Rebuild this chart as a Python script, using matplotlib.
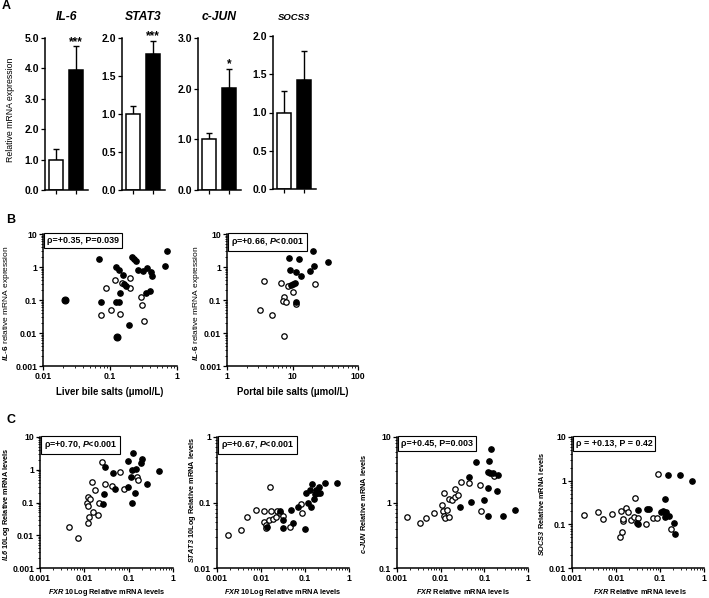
import numpy as np
import matplotlib
matplotlib.use('Agg')
import matplotlib.pyplot as plt
from matplotlib.ticker import FuncFormatter, LogLocator, NullFormatter

plt.rcParams['font.family'] = ['Liberation Sans', 'DejaVu Sans']
plt.rcParams['font.weight'] = 'bold'
plt.rcParams['mathtext.fontset'] = 'custom'
plt.rcParams['mathtext.rm'] = 'Liberation Sans'
plt.rcParams['mathtext.it'] = 'Liberation Sans:italic'
plt.rcParams['mathtext.bf'] = 'Liberation Sans:bold'
plt.rcParams['mathtext.bfit'] = 'Liberation Sans:italic:bold'

W, H = 709, 598

# ---- panel A : bar data
genes = ['IL-6', 'STAT3', 'c-JUN', 'SOCS3']
ctrl_mean = [1.0, 1.0, 1.0, 1.0]
ctrl_sem = [0.36, 0.11, 0.13, 0.28]
case_mean = [3.95, 1.79, 2.02, 1.42]
case_sem = [0.78, 0.17, 0.37, 0.39]
stars = ['***', '***', '*', '']
ymax_a = [5, 2, 3, 2]
ystep_a = [1, 0.5, 1, 0.5]

# ---- panel B : IL-6 vs bile salts
liver_fx = [0.069, 0.073, 0.123, 0.136, 0.158, 0.122, 0.135, 0.141, 0.162, 0.174, 0.195,
            0.214, 0.229, 0.245, 0.266, 0.31, 0.36, 0.41, 0.42, 0.34, 0.40, 0.66, 0.71]
liver_fy = [1.75, 0.084, 1.0, 0.83, 0.56, 0.09, 0.09, 0.166, 0.31, 0.26, 0.0175,
            1.97, 1.71, 1.56, 0.79, 0.77, 0.93, 0.70, 0.53, 0.16, 0.19, 1.1, 3.0]
liver_big_x = [0.021, 0.128]
liver_big_y = [0.098, 0.0078]
liver_ox = [0.074, 0.102, 0.14, 0.088, 0.12, 0.15, 0.2, 0.2, 0.29, 0.3, 0.32]
liver_oy = [0.036, 0.05, 0.038, 0.235, 0.41, 0.33, 0.47, 0.235, 0.12, 0.073, 0.023]

portal_fx = [8.8, 12.5, 20.4, 35, 9.2, 11.5, 13.5, 18.5, 21.6, 9.5, 10.1, 11.0, 11.2]
portal_fy = [1.92, 1.75, 3.0, 1.42, 0.79, 0.70, 0.53, 0.77, 1.1, 0.29, 0.31, 0.33, 0.085]
portal_ox = [3.7, 6.6, 8.5, 10.1, 7.3, 7.1, 8.0, 3.2, 4.9, 7.4, 22.4, 11.5]
portal_oy = [0.38, 0.33, 0.26, 0.17, 0.122, 0.093, 0.09, 0.049, 0.036, 0.0083, 0.30, 0.075]

# ---- panel C : genes vs FXR
il6_fx = [0.029, 0.028, 0.027, 0.044, 0.05, 0.095, 0.098, 0.127, 0.121, 0.144, 0.19,
          0.2, 0.115, 0.136, 0.118, 0.26, 0.48]
il6_fy = [1.18, 0.18, 0.089, 0.77, 0.256, 0.29, 1.8, 3.2, 0.98, 1.05, 1.6,
          2.1, 0.58, 0.2, 0.095, 0.36, 0.89]
il6_ox = [0.0046, 0.0071, 0.0119, 0.0117, 0.0123, 0.0136, 0.0127, 0.0123, 0.0151, 0.0177,
          0.0153, 0.0199, 0.0215, 0.025, 0.029, 0.043, 0.063, 0.08, 0.157, 0.165]
il6_oy = [0.0176, 0.0085, 0.146, 0.1, 0.079, 0.126, 0.037, 0.023, 0.41, 0.24,
          0.052, 0.041, 0.095, 1.72, 0.355, 0.32, 0.83, 0.256, 0.61, 0.49]

stat3_fx = [0.0137, 0.027, 0.032, 0.031, 0.047, 0.053, 0.069, 0.1, 0.107, 0.12, 0.14,
            0.128, 0.147, 0.157, 0.166, 0.174, 0.21, 0.196, 0.22, 0.28, 0.52]
stat3_fy = [0.043, 0.074, 0.054, 0.041, 0.077, 0.049, 0.084, 0.039, 0.138, 0.1, 0.086,
            0.155, 0.19, 0.114, 0.135, 0.155, 0.17, 0.14, 0.138, 0.197, 0.2]
stat3_ox = [0.0018, 0.0036, 0.0048, 0.0075, 0.0117, 0.0166, 0.0235, 0.0163, 0.012, 0.0128,
            0.013, 0.015, 0.019, 0.022, 0.027, 0.032, 0.046, 0.082, 0.085]
stat3_oy = [0.032, 0.038, 0.06, 0.077, 0.075, 0.075, 0.073, 0.17, 0.051, 0.046,
            0.041, 0.054, 0.056, 0.061, 0.068, 0.062, 0.043, 0.096, 0.069]

cjun_fx = [0.027, 0.05, 0.045, 0.064, 0.1, 0.121, 0.119, 0.121, 0.131, 0.14, 0.137,
           0.158, 0.195, 0.21, 0.27, 0.5]
cjun_fy = [0.86, 1.02, 2.48, 4.2, 1.1, 0.62, 1.64, 2.95, 4.35, 6.5, 2.8,
           2.85, 1.49, 2.6, 0.62, 0.78]
cjun_ox = [0.0017, 0.0033, 0.0045, 0.0069, 0.0107, 0.0121, 0.0113, 0.0121, 0.0128, 0.014,
           0.0152, 0.0152, 0.018, 0.0216, 0.021, 0.025, 0.029, 0.044, 0.078, 0.082, 0.166]
cjun_oy = [0.6, 0.49, 0.58, 0.69, 0.91, 1.42, 0.74, 0.62, 0.57, 0.76,
           0.6, 1.12, 1.09, 1.58, 1.22, 1.3, 2.05, 1.96, 1.85, 0.74, 2.5]

socs3_fx = [0.032, 0.032, 0.03, 0.05, 0.055, 0.107, 0.12, 0.14, 0.16, 0.133, 0.15,
            0.29, 0.54, 0.21, 0.22, 0.13]
socs3_fy = [0.21, 0.1, 0.11, 0.22, 0.22, 0.195, 0.2, 0.19, 0.155, 0.38, 1.35,
            1.35, 1.0, 0.106, 0.06, 0.15]
socs3_ox = [0.0019, 0.0038, 0.005, 0.008, 0.0127, 0.0146, 0.0141, 0.0123, 0.0136, 0.0168,
            0.019, 0.0225, 0.025, 0.0276, 0.031, 0.047, 0.07, 0.085, 0.09, 0.18]
socs3_oy = [0.162, 0.195, 0.13, 0.17, 0.2, 0.12, 0.13, 0.052, 0.068, 0.24,
            0.195, 0.123, 0.145, 0.4, 0.14, 0.1, 0.14, 0.14, 1.42, 0.08]


def px(l, t, r, b):
    return [l / W, 1 - b / H, (r - l) / W, (b - t) / H]


def style(ax, fs=6.2):
    ax.spines['top'].set_visible(False)
    ax.spines['right'].set_visible(False)
    ax.spines['left'].set_linewidth(1.1)
    ax.spines['bottom'].set_linewidth(1.1)
    ax.tick_params(which='major', length=3, width=0.9, labelsize=fs, pad=1.2)
    ax.tick_params(which='minor', length=1.7, width=0.6)


def logfmt(ax):
    f = FuncFormatter(lambda v, p: '%g' % v)
    for axis in [ax.xaxis, ax.yaxis]:
        axis.set_major_locator(LogLocator(base=10))
        axis.set_minor_locator(LogLocator(base=10, subs=np.arange(2, 10)))
        axis.set_major_formatter(f)
        axis.set_minor_formatter(NullFormatter())


def scatter(ax, fx, fy, ox, oy, ms=3.9):
    ax.plot(ox, oy, 'o', mfc='white', mec='k', ms=ms, mew=0.9, clip_on=False)
    ax.plot(fx, fy, 'o', mfc='k', mec='k', ms=ms, mew=0.9, clip_on=False)


def rho_box(ax, txt):
    ax.text(0.03, 0.985, txt, transform=ax.transAxes, ha='left', va='top', fontsize=6.4,
            bbox=dict(boxstyle='square,pad=0.3', fc='white', ec='k', lw=0.8))


fig = plt.figure(figsize=(W / 100, H / 100), dpi=100)

# ---------------- A
a_boxes = [(45, 38, 88, 190), (122, 38, 165, 190), (198, 38, 241, 190), (273, 36, 316, 189)]
for i, g in enumerate(genes):
    ax = fig.add_axes(px(*a_boxes[i]))
    ax.bar([0, 1], [ctrl_mean[i], case_mean[i]], width=0.7, color=['white', 'black'],
           edgecolor='k', linewidth=1.1, zorder=2)
    ax.errorbar([0, 1], [ctrl_mean[i], case_mean[i]],
                yerr=[[0, 0], [ctrl_sem[i], case_sem[i]]], fmt='none', ecolor='k',
                elinewidth=1.0, capsize=2.5, capthick=1.0, zorder=1)
    if stars[i]:
        ax.text(1, case_mean[i] + case_sem[i] - ymax_a[i] * 0.01, stars[i],
                ha='center', va='bottom', fontsize=8.5)
    ax.set_xlim(-0.55, 1.6)
    ax.set_ylim(0, ymax_a[i])
    ax.set_yticks(np.arange(0, ymax_a[i] + ystep_a[i] / 2, ystep_a[i]))
    ax.yaxis.set_major_formatter(FuncFormatter(lambda v, p: '%.1f' % v))
    ax.set_xticks([0, 1])
    ax.set_xticklabels(['', ''])
    style(ax, fs=7.5)
    cx = (a_boxes[i][0] + a_boxes[i][2]) / 2
    fig.text(cx / W, 1 - 17 / H, g, ha='center', va='center', style='italic',
             fontsize=8.7 if i < 3 else 6.8)

fig.text(11 / W, 1 - 110 / H, 'Relative mRNA expression', rotation=90, ha='center',
         va='center', fontsize=6.3, weight='normal')
fig.text(6 / W, 1 - 6 / H, 'A', fontsize=9, ha='center', va='center')

# ---------------- B
ax = fig.add_axes(px(43, 234, 177, 366))
ax.set_xscale('log')
ax.set_yscale('log')
scatter(ax, liver_fx, liver_fy, liver_ox, liver_oy)
ax.plot(liver_big_x, liver_big_y, 'o', mfc='k', mec='k', ms=4.9, mew=0.9)
ax.set_xlim(0.01, 1)
ax.set_ylim(0.001, 10)
style(ax)
logfmt(ax)
rho_box(ax, 'ρ=+0.35, P=0.039')

ax = fig.add_axes(px(227, 234, 358, 366))
ax.set_xscale('log')
ax.set_yscale('log')
scatter(ax, portal_fx, portal_fy, portal_ox, portal_oy)
ax.set_xlim(1, 100)
ax.set_ylim(0.001, 10)
style(ax)
logfmt(ax)
rho_box(ax, 'ρ=+0.66, $\\mathbfit{P}$<0.001')

for x, lab in [(7, '$\\mathit{IL}$-$\\mathit{6}$ relative mRNA expression'),
               (197, '$\\mathit{IL}$-$\\mathit{6}$ relative mRNA expression')]:
    fig.text(x / W, 1 - 303 / H, lab, rotation=90, ha='center', va='center',
             fontsize=6.0, weight='normal')
fig.text(110 / W, 1 - 392 / H, 'Liver bile salts (μmol/L)', ha='center', va='center',
         fontsize=6.9)
fig.text(293 / W, 1 - 392 / H, 'Portal bile salts (μmol/L)', ha='center', va='center',
         fontsize=6.9)
fig.text(11 / W, 1 - 220 / H, 'B', fontsize=9, ha='center', va='center')

# ---------------- C
c_boxes = [(40, 437, 173, 568), (217, 437, 349, 568), (397, 437, 528, 568), (572, 437, 704, 568)]
c_data = [(il6_fx, il6_fy, il6_ox, il6_oy), (stat3_fx, stat3_fy, stat3_ox, stat3_oy),
          (cjun_fx, cjun_fy, cjun_ox, cjun_oy), (socs3_fx, socs3_fy, socs3_ox, socs3_oy)]
c_ylims = [(0.001, 10), (0.01, 1), (0.1, 10), (0.01, 10)]
c_rho = ['ρ=+0.70, $\\mathbfit{P}$<0.001', 'ρ=+0.67, $\\mathbfit{P}$<0.001',
         'ρ=+0.45, P=0.003', 'ρ = +0.13, P = 0.42']
c_ylab = ['$\\mathbfit{IL6}$ 10Log Relative mRNA levels',
          '$\\mathbfit{STAT3}$ 10Log Relative mRNA levels',
          '$\\mathbfit{c}$-$\\mathbfit{JUN}$ Relative mRNA levels',
          '$\\mathbfit{SOCS3}$ Relative mRNA levels']
c_xlab = ['$\\mathbfit{FXR}$ 10Log Relative mRNA levels',
          '$\\mathbfit{FXR}$ 10Log Relative mRNA levels',
          '$\\mathbfit{FXR}$ Relative mRNA levels',
          '$\\mathbfit{FXR}$ Relative mRNA levels']
c_ylab_x = [7, 192, 363, 541]
c_ylab_y = [504, 500, 504, 504]
c_xlab_x = [107, 283, 463, 640]

for i in range(4):
    ax = fig.add_axes(px(*c_boxes[i]))
    ax.set_xscale('log')
    ax.set_yscale('log')
    scatter(ax, *c_data[i])
    ax.set_xlim(0.001, 1)
    ax.set_ylim(*c_ylims[i])
    style(ax)
    logfmt(ax)
    rho_box(ax, c_rho[i])
    fig.text(c_ylab_x[i] / W, 1 - c_ylab_y[i] / H, c_ylab[i], rotation=90, ha='center',
             va='center', fontsize=5.3)
    fig.text(c_xlab_x[i] / W, 1 - 592 / H, c_xlab[i], ha='center', va='center',
             fontsize=5.3)

fig.text(11 / W, 1 - 420 / H, 'C', fontsize=9, ha='center', va='center')

fig.savefig('out.png', dpi=100)
